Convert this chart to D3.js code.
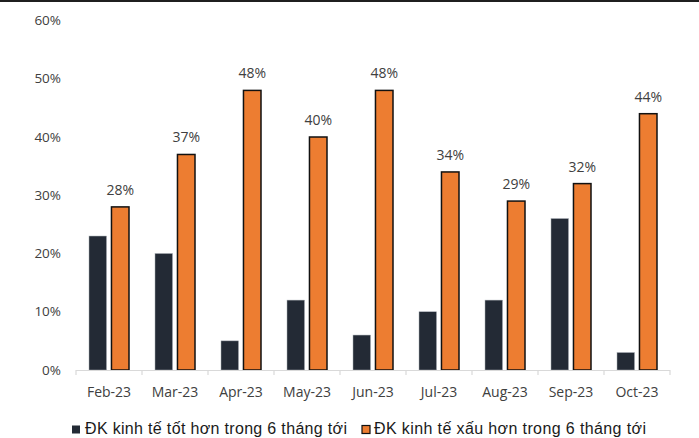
<!DOCTYPE html>
<html>
<head>
<meta charset="utf-8">
<script src="https://cdn.jsdelivr.net/npm/d3@7"></script>
<style>
  html, body { margin: 0; padding: 0; background: #fff; }
  svg { display: block; }
</style>
</head>
<body>
<svg id="chart" width="699" height="438"></svg>
<script>
// Months shown on the category axis
const months = ["Feb-23", "Mar-23", "Apr-23", "May-23", "Jun-23", "Jul-23", "Aug-23", "Sep-23", "Oct-23"];
// Share expecting better economic conditions in the next 6 months (%)
const better = [23, 20, 5, 12, 6, 10, 12, 26, 3];
// Share expecting worse economic conditions in the next 6 months (%)
const worse = [28, 37, 48, 40, 48, 34, 29, 32, 44];
// Value axis ticks (%)
const yTicks = [0, 10, 20, 30, 40, 50, 60];
// Series names for the legend
const seriesNames = ["ĐK kinh tế tốt hơn trong 6 tháng tới", "ĐK kinh tế xấu hơn trong 6 tháng tới"];

const colDark = "#232a35";
const colOrange = "#ed7d31";
const textCol = "#404040";
const tickFont = "'Open Sans', sans-serif";

const svg = d3.select("#chart");

// frame line along the top edge
svg.append("rect").attr("x", 0).attr("y", 0).attr("width", 699).attr("height", 2).attr("fill", "#1f1f1f");

const x0 = d3.scaleBand().domain(months).range([76, 670]).padding(0);
const x1 = d3.scaleBand().domain(["better", "worse"]).range([13, 53]).paddingInner(0.22);
const y = d3.scaleLinear().domain([0, 60]).range([370, 20.5]);

// value axis labels
svg.append("g").selectAll("text").data(yTicks).join("text")
  .attr("x", 61).attr("y", d => y(d)).attr("dy", "0.35em")
  .attr("text-anchor", "end")
  .attr("font-family", tickFont).attr("font-size", 13.5).attr("fill", textCol)
  .text(d => d + "%");

// bars
const groups = svg.append("g").selectAll("g").data(months).join("g")
  .attr("transform", d => `translate(${x0(d)},0)`);

groups.append("rect")
  .attr("x", x1("better")).attr("width", x1.bandwidth())
  .attr("y", (d, i) => y(better[i])).attr("height", (d, i) => y(0) - y(better[i]))
  .attr("fill", colDark).attr("stroke", "#a9aeb5").attr("stroke-width", 0.5);

groups.append("rect")
  .attr("x", x1("worse")).attr("width", x1.bandwidth())
  .attr("y", (d, i) => y(worse[i])).attr("height", (d, i) => y(0) - y(worse[i]))
  .attr("fill", colOrange).attr("stroke", "#111").attr("stroke-width", 1.5);

// labels on the "worse" bars
groups.append("text")
  .attr("x", x1("worse") + x1.bandwidth() / 2)
  .attr("y", (d, i) => y(worse[i]) - 12)
  .attr("text-anchor", "middle")
  .attr("font-family", tickFont).attr("font-size", 14).attr("fill", textCol)
  .text((d, i) => worse[i] + "%");

// category axis
const gx = svg.append("g").attr("transform", `translate(0,${y(0)})`);
gx.append("line").attr("x1", 76).attr("x2", 670).attr("y1", 0.5).attr("y2", 0.5)
  .attr("stroke", "#d9d9d9").attr("stroke-width", 1.2);
gx.append("g").selectAll("line").data(d3.range(months.length + 1)).join("line")
  .attr("x1", i => 76 + i * x0.step()).attr("x2", i => 76 + i * x0.step())
  .attr("y1", 0).attr("y2", 5).attr("stroke", "#d9d9d9").attr("stroke-width", 1.2);
gx.append("g").selectAll("text").data(months).join("text")
  .attr("x", d => x0(d) + x0.bandwidth() / 2).attr("y", 26.5)
  .attr("text-anchor", "middle")
  .attr("font-family", tickFont).attr("font-size", 14).attr("fill", textCol)
  .text(d => d);

// legend
const legend = svg.append("g");
const legendItems = [
  { name: seriesNames[0], fill: colDark, stroke: "none", sx: 72, tx: 85, len: 262 },
  { name: seriesNames[1], fill: colOrange, stroke: "#111", sx: 362, tx: 374, len: 272 }
];
legendItems.forEach(it => {
  legend.append("rect").attr("x", it.sx).attr("y", 425.5).attr("width", 8).attr("height", 8)
    .attr("fill", it.fill).attr("stroke", it.stroke).attr("stroke-width", it.stroke === "none" ? 0 : 1.2);
  legend.append("text").attr("x", it.tx).attr("y", 433.5)
    .attr("font-family", "'Liberation Sans', Arial, sans-serif").attr("font-size", 16).attr("fill", "#1a1a1a")
    .attr("textLength", it.len).attr("lengthAdjust", "spacing")
    .text(it.name);
});
</script>
</body>
</html>
